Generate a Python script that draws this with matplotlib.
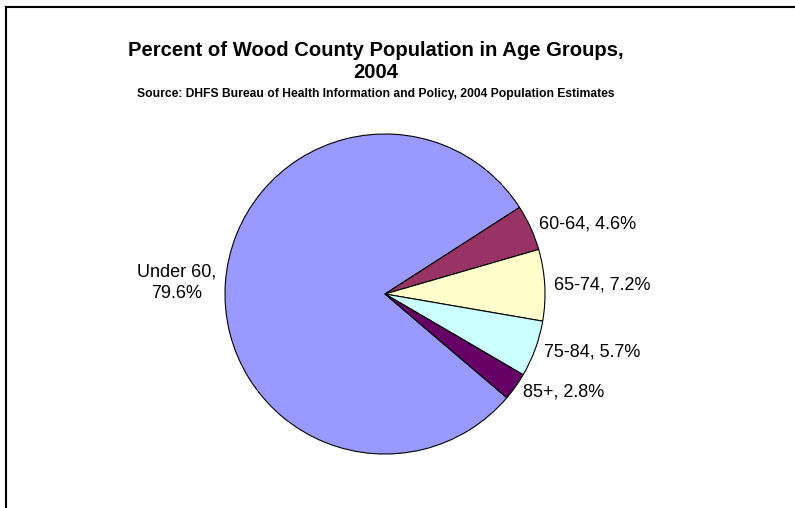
import matplotlib
matplotlib.use("Agg")
import matplotlib.pyplot as plt
from matplotlib.lines import Line2D

plt.rcParams['font.family'] = ['Liberation Sans', 'DejaVu Sans']

# data
groups = ['Under 60', '60-64', '65-74', '75-84', '85+']
percents = [79.6, 4.6, 7.2, 5.7, 2.8]
colors = ['#9999FF', '#993366', '#FFFFCC', '#CCFFFF', '#660066']

W, H = 795, 508
fig = plt.figure(figsize=(W / 100, H / 100), dpi=100)

# pie centred at (385, 294) px, radius 160 px
cx, cy, r = 385, 294, 160
ax = fig.add_axes([(cx - r) / W, (H - cy - r) / H, 2 * r / W, 2 * r / H])

labels = []
for g, p in zip(groups, percents):
    if g == 'Under 60':
        labels.append(f"{g},\n{p:.1f}%")
    else:
        labels.append(f"{g}, {p:.1f}%")

wedges, texts = ax.pie(percents, labels=labels, colors=colors,
                       startangle=-40.4, counterclock=False,
                       labeldistance=1.06,
                       wedgeprops=dict(edgecolor='black', linewidth=0.8),
                       textprops=dict(fontsize=13))
for t in texts:
    t.set_multialignment('center')
    t.set_linespacing(1.3)
ax.set_xlim(-1, 1)
ax.set_ylim(-1, 1)

# titles
fig.text(376 / W, 1 - 50 / H, "Percent of Wood County Population in Age Groups,",
         ha='center', va='center', fontsize=14.6, fontweight='bold')
fig.text(376 / W, 1 - 72.5 / H, "2004",
         ha='center', va='center', fontsize=14.6, fontweight='bold')
fig.text(376 / W, 1 - 94 / H,
         "Source: DHFS Bureau of Health Information and Policy, 2004 Population Estimates",
         ha='center', va='center', fontsize=8.7, fontweight='bold')

# chart-area border (top and left visible)
fig.add_artist(Line2D([6 / W, 1], [1 - 7 / H, 1 - 7 / H], color='black', linewidth=1.5))
fig.add_artist(Line2D([6 / W, 6 / W], [0, 1 - 7 / H], color='black', linewidth=1.5))

fig.savefig('out.png', dpi=100)
